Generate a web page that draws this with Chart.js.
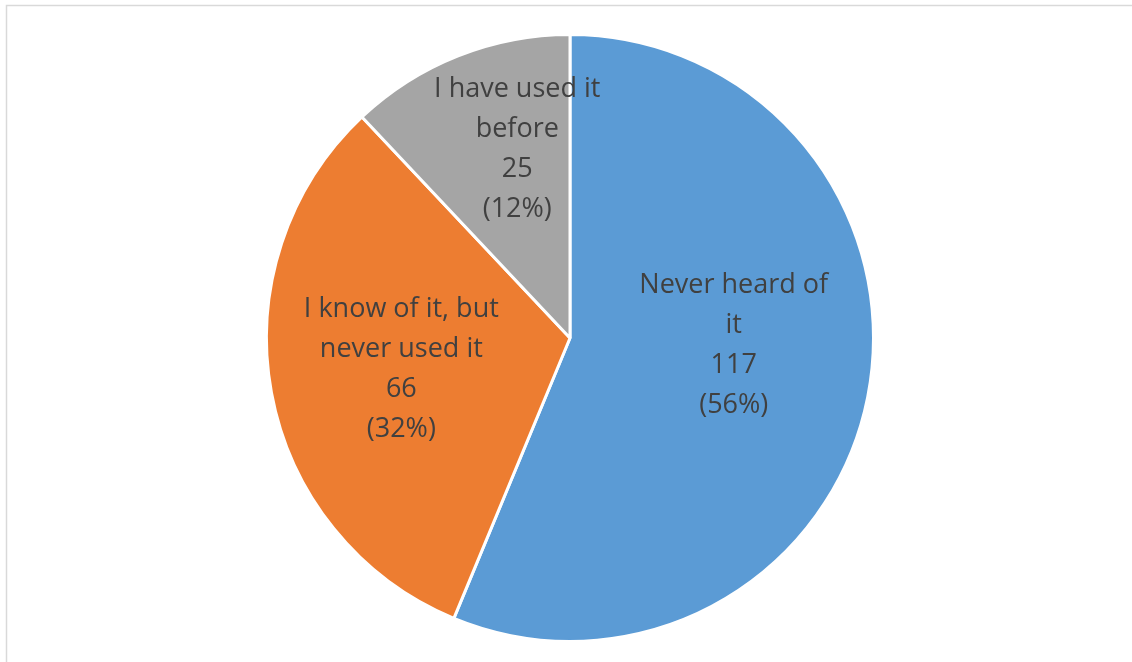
<!DOCTYPE html>
<html>
<head>
<meta charset="utf-8">
<script src="https://cdn.jsdelivr.net/npm/chart.js@4.4.0/dist/chart.umd.min.js"></script>
<style>
  html, body { margin: 0; padding: 0; background: #fff; }
  #wrap { width: 1132px; height: 662px; position: relative; }
</style>
</head>
<body>
<div id="wrap"><canvas id="grafico" width="1132" height="662"></canvas></div>
<script>
// datos del grafico
const categorias = [
    ['Never heard of', 'it'],
    ['I know of it, but', 'never used it'],
    ['I have used it', 'before']
];
const valores = [117, 66, 25];
const colores = ['#5B9BD5', '#ED7D31', '#A5A5A5'];

// marco gris claro alrededor del grafico
const marco = {
    id: 'marco',
    beforeDraw(chart) {
        const ctx = chart.ctx;
        ctx.save();
        ctx.fillStyle = '#fff';
        ctx.fillRect(0, 0, chart.width, chart.height);
        ctx.strokeStyle = '#d9d9d9';
        ctx.lineWidth = 1.5;
        ctx.strokeRect(6.5, 5.5, chart.width + 20, chart.height + 20);
        ctx.restore();
    }
};

// etiquetas dentro de cada porcion (nombre, valor y porcentaje)
const etiquetas = {
    id: 'etiquetas',
    afterDatasetsDraw(chart, args, opts) {
        const ctx = chart.ctx;
        const meta = chart.getDatasetMeta(0);
        const total = valores.reduce((a, b) => a + b, 0);
        ctx.save();
        ctx.font = opts.size + 'px ' + opts.family;
        ctx.fillStyle = opts.color;
        ctx.textAlign = 'center';
        ctx.textBaseline = 'middle';
        meta.data.forEach((arc, i) => {
            const p = arc.getProps(['x', 'y', 'startAngle', 'endAngle', 'outerRadius'], true);
            const ang = (p.startAngle + p.endAngle) / 2 + opts.shift[i] * Math.PI / 180;
            const r = p.outerRadius * opts.radio[i];
            const cx = p.x + Math.cos(ang) * r;
            const cy = p.y + Math.sin(ang) * r;
            const lineas = [...categorias[i], String(valores[i]), '(' + Math.round(valores[i] / total * 100) + '%)'];
            const y0 = cy - (lineas.length - 1) * opts.lineHeight / 2;
            lineas.forEach((t, k) => ctx.fillText(t, cx, y0 + k * opts.lineHeight));
        });
        ctx.restore();
    }
};

const canvasGrafico = document.getElementById('grafico');
new Chart(canvasGrafico, {
    type: 'pie',
    data: {
        labels: categorias,
        datasets: [{
            data: valores,
            backgroundColor: colores,
            borderColor: '#ffffff',
            borderWidth: 3
        }]
    },
    options: {
        responsive: false,
        animation: false,
        layout: { padding: { left: 265, right: 257, top: 33, bottom: 19 } },
        plugins: {
            legend: { display: false },
            tooltip: { enabled: false },
            etiquetas: {
                family: '"Open Sans", sans-serif',
                size: 27,
                color: '#404040',
                lineHeight: 40,
                radio: [0.54, 0.565, 0.645],
                shift: [-8.75, 0, 6]
            }
        }
    },
    plugins: [marco, etiquetas]
});
</script>
</body>
</html>
